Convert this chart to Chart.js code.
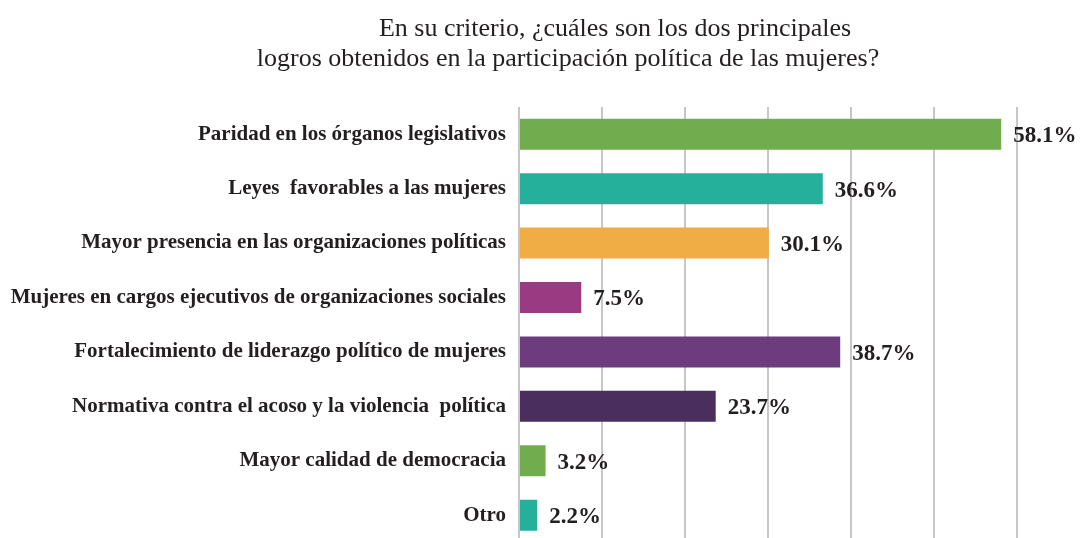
<!DOCTYPE html>
<html>
<head>
<meta charset="utf-8">
<script src="https://cdn.jsdelivr.net/npm/chart.js@4.4.1/dist/chart.umd.min.js"></script>
<style>
  html, body { margin: 0; padding: 0; background: #fff; overflow: hidden; }
  #wrap { position: relative; width: 1084px; height: 538px; overflow: hidden; }
  canvas { display: block; }
</style>
</head>
<body>
<div id="wrap"><canvas id="logrosChart" width="1084" height="568"></canvas></div>
<script>
const TITLE_LINES = [
  "En su criterio, ¿cuáles son los dos principales",
  "logros obtenidos en la participación política de las mujeres?"
];

const CATEGORIES = [
  "Paridad en los órganos legislativos",
  "Leyes  favorables a las mujeres",
  "Mayor presencia en las organizaciones políticas",
  "Mujeres en cargos ejecutivos de organizaciones sociales",
  "Fortalecimiento de liderazgo político de mujeres",
  "Normativa contra el acoso y la violencia  política",
  "Mayor calidad de democracia",
  "Otro"
];

const VALUES = [58.1, 36.6, 30.1, 7.5, 38.7, 23.7, 3.2, 2.2];

const BAR_COLORS = [
  "#71ac4f", "#24b09b", "#f0ad45", "#993a82",
  "#6c3c7e", "#4a2e5e", "#71ac4f", "#24b09b"
];

const TEXT_COLOR = "#231f20";

// ==============================
// TITLE (two lines, offset centers)
// ==============================
const titlePlugin = {
  id: "twoLineTitle",
  afterDraw(chart) {
    const ctx = chart.ctx;
    ctx.save();
    ctx.fillStyle = TEXT_COLOR;
    ctx.font = '26px "Liberation Serif"';
    ctx.textAlign = "center";
    ctx.textBaseline = "alphabetic";
    ctx.fillText(TITLE_LINES[0], 615, 36);
    ctx.fillText(TITLE_LINES[1], 568, 66);
    ctx.restore();
  }
};

// ==============================
// VALUE LABELS NEXT TO BARS
// ==============================
const valueLabels = {
  id: "valueLabels",
  afterDatasetsDraw(chart) {
    const ctx = chart.ctx;
    const meta = chart.getDatasetMeta(0);
    ctx.save();
    ctx.fillStyle = TEXT_COLOR;
    ctx.font = 'bold 23px "Liberation Serif"';
    ctx.textAlign = "left";
    ctx.textBaseline = "middle";
    meta.data.forEach((bar, i) => {
      ctx.fillText(VALUES[i].toFixed(1) + "%", bar.x + 12, bar.y + 2);
    });
    ctx.restore();
  }
};

const ctx = document.getElementById("logrosChart").getContext("2d");

new Chart(ctx, {
  type: "bar",
  data: {
    labels: CATEGORIES,
    datasets: [
      {
        data: VALUES,
        backgroundColor: BAR_COLORS,
        borderWidth: 0,
        barPercentage: 0.57,
        categoryPercentage: 1
      }
    ]
  },
  options: {
    indexAxis: "y",
    responsive: false,
    animation: false,
    layout: {
      padding: { top: 107, right: 67, bottom: 0, left: 0 }
    },
    plugins: {
      legend: { display: false },
      tooltip: { enabled: false },
      title: { display: false }
    },
    scales: {
      x: {
        min: 0,
        max: 60,
        ticks: { display: false, stepSize: 10 },
        grid: { color: "#c7c7cb", lineWidth: 2, drawTicks: false },
        border: { display: false },
        afterFit(scale) {
          scale.height = 0;
        }
      },
      y: {
        grid: { display: false, drawTicks: false },
        border: { display: false },
        ticks: {
          color: TEXT_COLOR,
          padding: 13,
          font: { family: "Liberation Serif", weight: "bold", size: 21 }
        },
        afterFit(scale) {
          scale.width = 519;
        }
      }
    }
  },
  plugins: [titlePlugin, valueLabels]
});
</script>
</body>
</html>
